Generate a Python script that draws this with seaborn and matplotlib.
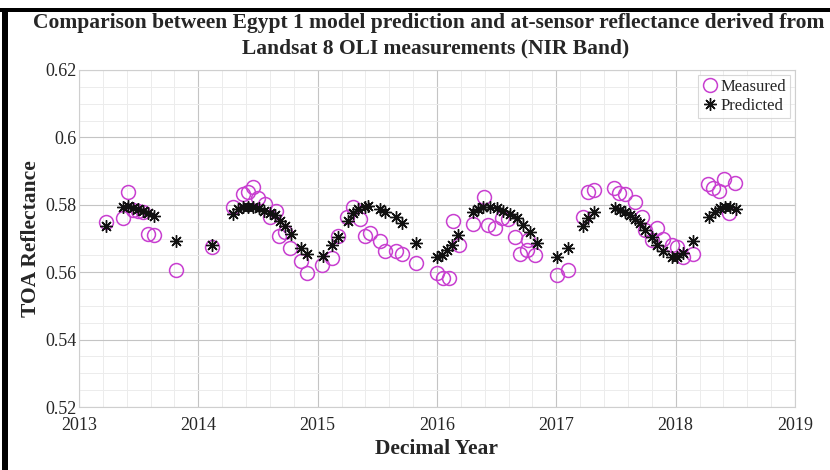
import numpy as np
import pandas as pd
import matplotlib
matplotlib.use("Agg")
import matplotlib.pyplot as plt
from matplotlib.patches import Rectangle
from matplotlib.ticker import MultipleLocator
import seaborn as sns

# At-sensor (measured) TOA reflectance, NIR band
meas_year = [
    2013.224, 2013.371, 2013.413, 2013.455, 2013.497, 2013.539, 2013.580, 2013.628,
    2013.813, 2014.117, 2014.288, 2014.372, 2014.414, 2014.461, 2014.503, 2014.559,
    2014.601, 2014.648, 2014.679, 2014.727, 2014.769, 2014.858, 2014.908, 2015.034,
    2015.123, 2015.173, 2015.244, 2015.294, 2015.355, 2015.397, 2015.439, 2015.523,
    2015.565, 2015.657, 2015.704, 2015.825, 2015.998, 2016.054, 2016.104, 2016.138,
    2016.188, 2016.305, 2016.398, 2016.430, 2016.487, 2016.543, 2016.598, 2016.655,
    2016.697, 2016.752, 2016.766, 2016.822, 2017.004, 2017.096, 2017.227, 2017.269,
    2017.317, 2017.487, 2017.526, 2017.577, 2017.660, 2017.716, 2017.744, 2017.800,
    2017.842, 2017.892, 2017.967, 2018.009, 2018.065, 2018.149, 2018.275, 2018.317,
    2018.365, 2018.409, 2018.451, 2018.499,
]
meas_refl = [
    0.5748, 0.5760, 0.5837, 0.5785, 0.5782, 0.5779, 0.5713, 0.5711,
    0.5607, 0.5674, 0.5794, 0.5832, 0.5837, 0.5852, 0.5819, 0.5802,
    0.5763, 0.5783, 0.5707, 0.5720, 0.5671, 0.5633, 0.5597, 0.5621,
    0.5641, 0.5707, 0.5765, 0.5794, 0.5757, 0.5707, 0.5717, 0.5694,
    0.5664, 0.5664, 0.5654, 0.5628, 0.5599, 0.5582, 0.5582, 0.5753,
    0.5681, 0.5743, 0.5824, 0.5740, 0.5730, 0.5760, 0.5757, 0.5705,
    0.5654, 0.5666, 0.5696, 0.5651, 0.5592, 0.5607, 0.5765, 0.5839,
    0.5844, 0.5849, 0.5834, 0.5831, 0.5809, 0.5765, 0.5725, 0.5696,
    0.5730, 0.5698, 0.5681, 0.5674, 0.5646, 0.5654, 0.5861, 0.5849,
    0.5842, 0.5876, 0.5775, 0.5864,
]

# Egypt 1 model prediction
pred_year = [
    2013.224, 2013.371, 2013.413, 2013.455, 2013.497, 2013.539, 2013.580, 2013.628,
    2013.813, 2014.117, 2014.288, 2014.335, 2014.377, 2014.419, 2014.461, 2014.509,
    2014.553, 2014.601, 2014.643, 2014.685, 2014.727, 2014.774, 2014.858, 2014.908,
    2015.042, 2015.123, 2015.173, 2015.257, 2015.299, 2015.341, 2015.397, 2015.425,
    2015.523, 2015.565, 2015.657, 2015.704, 2015.825, 2015.998, 2016.040, 2016.082,
    2016.124, 2016.180, 2016.305, 2016.347, 2016.389, 2016.445, 2016.501, 2016.557,
    2016.613, 2016.669, 2016.724, 2016.780, 2016.836, 2017.009, 2017.101, 2017.227,
    2017.269, 2017.317, 2017.493, 2017.535, 2017.577, 2017.619, 2017.660, 2017.702,
    2017.744, 2017.800, 2017.842, 2017.892, 2017.967, 2018.009, 2018.065, 2018.149,
    2018.281, 2018.331, 2018.373, 2018.415, 2018.457, 2018.507,
]
pred_refl = [
    0.5738, 0.5794, 0.5796, 0.5790, 0.5787, 0.5782, 0.5777, 0.5767,
    0.5693, 0.5681, 0.5773, 0.5787, 0.5793, 0.5794, 0.5793, 0.5790,
    0.5782, 0.5777, 0.5770, 0.5752, 0.5737, 0.5713, 0.5671, 0.5654,
    0.5649, 0.5681, 0.5705, 0.5753, 0.5775, 0.5787, 0.5794, 0.5796,
    0.5787, 0.5780, 0.5763, 0.5747, 0.5686, 0.5644, 0.5651, 0.5666,
    0.5681, 0.5710, 0.5780, 0.5787, 0.5794, 0.5794, 0.5790, 0.5782,
    0.5773, 0.5760, 0.5740, 0.5720, 0.5686, 0.5646, 0.5671, 0.5737,
    0.5760, 0.5780, 0.5790, 0.5785, 0.5780, 0.5770, 0.5757, 0.5745,
    0.5725, 0.5704, 0.5681, 0.5664, 0.5644, 0.5644, 0.5656, 0.5693,
    0.5765, 0.5780, 0.5790, 0.5794, 0.5793, 0.5787,
]

x_ticks = [2013, 2014, 2015, 2016, 2017, 2018, 2019]
y_ticks = [0.52, 0.54, 0.56, 0.58, 0.60, 0.62]
y_tick_labels = ["0.52", "0.54", "0.56", "0.58", "0.6", "0.62"]

title_line1 = "Comparison between Egypt 1 model prediction and at-sensor reflectance derived from"
title_line2 = "Landsat 8 OLI measurements (NIR Band)"

sns.set_theme(style="white")
plt.rcParams["font.family"] = ["Liberation Serif", "DejaVu Serif"]

measured = pd.DataFrame({"year": meas_year, "refl": meas_refl})
predicted = pd.DataFrame({"year": pred_year, "refl": pred_refl})

W, H = 830, 470
fig = plt.figure(figsize=(W / 100, H / 100), dpi=100)
ax = fig.add_axes([0.0952, 0.1340, 0.8626, 0.7171])

magenta = "#c83fd0"
sns.lineplot(data=measured, x="year", y="refl", ax=ax, estimator=None, sort=False,
             linestyle="", marker="o", markersize=10, markerfacecolor="none",
             markeredgecolor=magenta, markeredgewidth=1.1, color=magenta,
             label="Measured", zorder=3)
sns.lineplot(data=predicted, x="year", y="refl", ax=ax, estimator=None, sort=False,
             linestyle="", marker=(8, 2, 0), markersize=9, markeredgecolor="#111111",
             markeredgewidth=1.0, color="#111111", label="Predicted", zorder=4)

ax.set_xlim(2013, 2019)
ax.set_ylim(0.52, 0.62)
ax.set_xticks(x_ticks)
ax.set_xticklabels([str(t) for t in x_ticks])
ax.set_yticks(y_ticks)
ax.set_yticklabels(y_tick_labels)
ax.xaxis.set_minor_locator(MultipleLocator(0.2))
ax.yaxis.set_minor_locator(MultipleLocator(0.005))
ax.grid(True, which="major", color="#c4c4c4", linewidth=0.8)
ax.grid(True, which="minor", color="#ececec", linewidth=0.7)
ax.set_axisbelow(True)
for s in ax.spines.values():
    s.set_color("#cfcfcf")
    s.set_linewidth(0.8)
ax.tick_params(axis="both", which="major", labelsize=13, labelcolor="#262626",
               direction="in", length=4, color="#8a8a8a")
ax.tick_params(axis="y", which="major", pad=2)
ax.tick_params(axis="x", which="major", pad=7)
ax.tick_params(axis="both", which="minor", length=0)

ax.set_xlabel("Decimal Year", fontsize=15.5, fontweight="bold", labelpad=4)
ax.set_ylabel("TOA Reflectance", fontsize=15.5, fontweight="bold", labelpad=3)

# two-line title; the long first line sits slightly left to stay inside the figure
fig.text(429 / W, 1 - 23 / H, title_line1, ha="center", va="center",
         fontsize=15.5, fontweight="bold")
fig.text(436 / W, 1 - 48 / H, title_line2, ha="center", va="center",
         fontsize=15.5, fontweight="bold")

leg = ax.legend(loc="upper right", fontsize=12, frameon=True, handletextpad=0.1,
                handlelength=1.0, borderpad=0.25, labelspacing=0.15,
                borderaxespad=0.3, fancybox=False)
leg.get_frame().set_edgecolor("#cfcfcf")
leg.get_frame().set_linewidth(0.8)

# black frame along the top and left edges of the figure
fig.add_artist(Rectangle((0, 1 - 12 / H), 1, 4 / H, transform=fig.transFigure,
                         facecolor="black", edgecolor="none", zorder=10))
fig.add_artist(Rectangle((2 / W, 0), 6 / W, 1 - 8 / H, transform=fig.transFigure,
                         facecolor="black", edgecolor="none", zorder=10))

fig.savefig("out.png", dpi=100)
